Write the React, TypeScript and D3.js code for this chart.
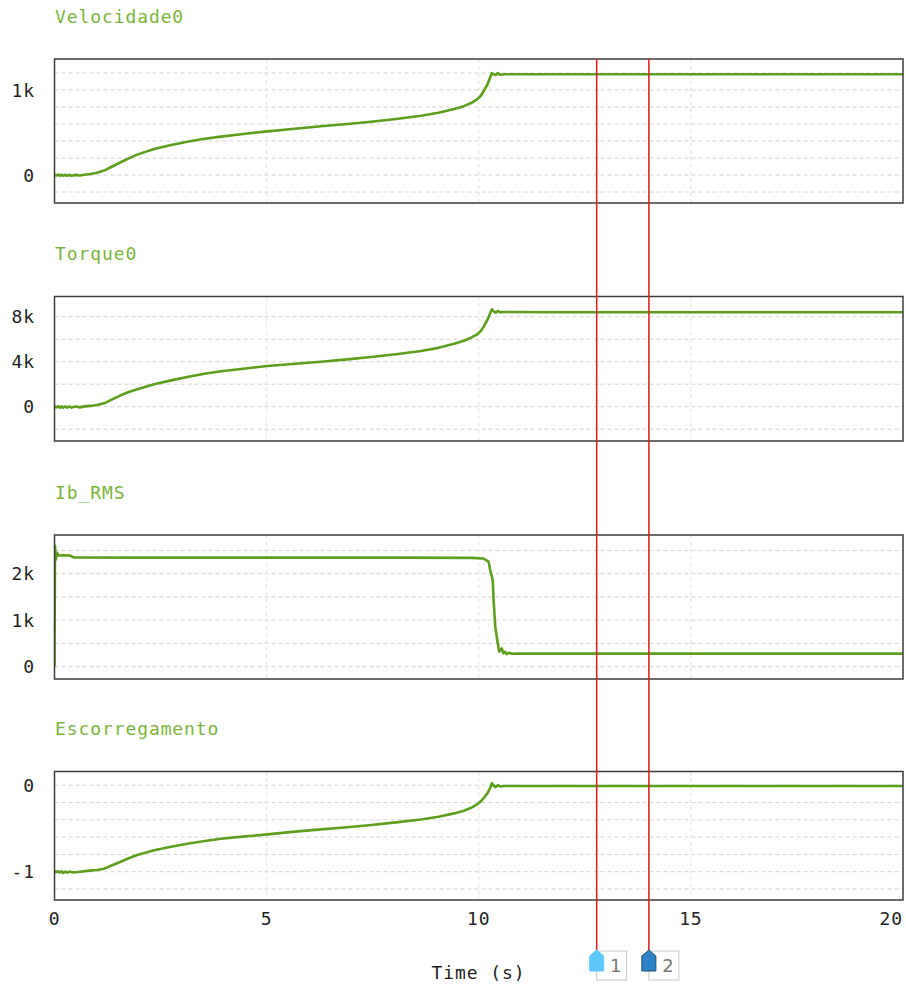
import React, { useMemo } from 'react'
import * as d3 from 'd3'

// sampled from the plot: [time (s), value]
const velocidade: [number, number][] = [
  [0, 6], [0.04, -6], [0.08, 5], [0.12, -8], [0.16, 4], [0.2, -9], [0.25, 3], [0.3, -9], [0.35, 3],
  [0.4, -8], [0.5, 2], [0.6, -6], [0.7, 4], [0.85, 12], [1.0, 28],
  [1.17, 52], [1.36, 100], [1.56, 150], [1.75, 196], [1.95, 240], [2.35, 306], [2.75, 354],
  [3.13, 392], [3.5, 424], [3.92, 452], [4.5, 486], [5.02, 514], [5.6, 542], [6.28, 573],
  [6.9, 600], [7.46, 627], [8.05, 660], [8.64, 698], [9.05, 732], [9.42, 776], [9.65, 810],
  [9.82, 847], [9.95, 886], [10.05, 933], [10.13, 1000], [10.21, 1071], [10.27, 1150],
  [10.31, 1200], [10.36, 1185], [10.4, 1176], [10.45, 1200], [10.5, 1180], [10.6, 1186],
  [12, 1185], [16, 1185], [20, 1185]
]

const torque: [number, number][] = [
  [0, 40], [0.04, -60], [0.08, 40], [0.12, -80], [0.16, 30], [0.2, -90], [0.25, 20], [0.3, -90],
  [0.35, 20], [0.4, -80], [0.5, 10], [0.6, -60], [0.7, 30], [0.85, 70], [1.0, 150],
  [1.17, 302], [1.36, 650], [1.56, 1013], [1.75, 1300], [1.95, 1547], [2.35, 1991], [2.75, 2340],
  [3.13, 2640], [3.5, 2900], [3.92, 3147], [4.5, 3400], [5.02, 3618], [5.6, 3800], [6.28, 4000],
  [6.9, 4210], [7.46, 4418], [8.05, 4660], [8.64, 4951], [9.05, 5230], [9.42, 5600], [9.65, 5860],
  [9.82, 6133], [9.95, 6400], [10.05, 6729], [10.13, 7200], [10.21, 7769], [10.27, 8300],
  [10.31, 8658], [10.36, 8450], [10.4, 8356], [10.45, 8507], [10.5, 8400], [10.6, 8420],
  [12, 8400], [20, 8400]
]

const ibRms: [number, number][] = [
  [0, 0], [0.005, 1200], [0.012, 2600], [0.03, 2300], [0.06, 2450], [0.1, 2390], [0.2, 2395],
  [0.37, 2390], [0.45, 2350], [2, 2345], [5, 2345], [8, 2345], [9.8, 2340], [10.11, 2327],
  [10.23, 2258], [10.27, 2080], [10.33, 1865], [10.35, 1434], [10.39, 860], [10.43, 611],
  [10.48, 323], [10.54, 396], [10.58, 288], [10.62, 321], [10.66, 270], [10.72, 300],
  [10.78, 278], [11, 280], [20, 280]
]

const escorregamento: [number, number][] = [
  [0, -0.99], [0.04, -1.005], [0.08, -0.995], [0.12, -1.01], [0.16, -0.995], [0.2, -1.015],
  [0.25, -0.998], [0.3, -1.012], [0.35, -0.998], [0.45, -1.01], [0.6, -1.0], [0.78, -0.99],
  [1.0, -0.98], [1.17, -0.965], [1.36, -0.925], [1.56, -0.885], [1.75, -0.845], [1.95, -0.807],
  [2.35, -0.753], [2.75, -0.712], [3.13, -0.677], [3.5, -0.648], [3.92, -0.619], [4.5, -0.592],
  [5.02, -0.569], [5.6, -0.54], [6.28, -0.511], [6.9, -0.486], [7.46, -0.461], [8.05, -0.43],
  [8.64, -0.396], [9.05, -0.365], [9.42, -0.326], [9.65, -0.295], [9.82, -0.261], [9.95, -0.225],
  [10.05, -0.185], [10.13, -0.14], [10.21, -0.089], [10.27, -0.03], [10.31, 0.023], [10.36, -0.01],
  [10.4, -0.023], [10.45, 0.0], [10.5, -0.015], [10.6, -0.01], [12, -0.01], [20, -0.01]
]

const titles = ['Velocidade0', 'Torque0', 'Ib_RMS', 'Escorregamento']
const yDomains: [number, number][] = [[-329, 1365], [-3049, 9796], [-265, 2832], [-1.327, 0.158]]
const gridSteps = [200, 2000, 500, 0.2]
const labelTicks = [[0, 1000], [0, 4000, 8000], [0, 1000, 2000], [-1, 0]]
const xTicks = [0, 5, 10, 15, 20]
const cursors = [12.78, 14.01]

const W = 906
const H = 987
const LEFT = 54.5
const RIGHT = 903
const panelTops = [59, 296.5, 535, 771.5]
const panelBottoms = [203, 441, 679, 900]

const MONO = '"DejaVu Sans Mono", monospace'
const LINE = '#5c9f1c'
const TITLE = '#7bb53b'

const fmt = (v: number) => {
  if (Math.abs(v) >= 1000) return `${v / 1000}k`
  return `${v}`
}

export default function App() {
  const x = useMemo(() => d3.scaleLinear().domain([0, 20]).range([LEFT, RIGHT]), [])
  const series = [velocidade, torque, ibRms, escorregamento]

  const panels = series.map((data, i) => {
    const y = d3.scaleLinear().domain(yDomains[i]).range([panelBottoms[i], panelTops[i]])
    const line = d3.line<[number, number]>().x(d => x(d[0])).y(d => y(d[1]))
    const step = gridSteps[i]
    const [lo, hi] = yDomains[i]
    const grid = d3.range(Math.ceil(lo / step), Math.floor(hi / step) + 1).map(k => +(k * step).toFixed(6))
    return { y, path: line(data) || '', grid, i }
  })

  return (
    <svg width={W} height={H} style={{ position: 'absolute', left: 0, top: 0, background: '#fff' }}>
      <defs>
        {panels.map(p => (
          <clipPath id={`clip${p.i}`} key={p.i}>
            <rect x={LEFT} y={panelTops[p.i]} width={RIGHT - LEFT} height={panelBottoms[p.i] - panelTops[p.i]} />
          </clipPath>
        ))}
      </defs>

      {panels.map(p => {
        const top = panelTops[p.i], bottom = panelBottoms[p.i]
        return (
          <g key={p.i}>
            <text x={55} y={top - 36.5} fill={TITLE} fontFamily={MONO} fontSize={18} letterSpacing={0.9}>
              {titles[p.i]}
            </text>
            {/* horizontal grid */}
            {p.grid.map(v => (
              <line key={v} x1={LEFT} x2={RIGHT} y1={p.y(v)} y2={p.y(v)}
                stroke="#d3d3d3" strokeWidth={1} strokeDasharray="4 3" />
            ))}
            {/* vertical grid */}
            {xTicks.slice(1, -1).map(t => (
              <line key={t} x1={x(t)} x2={x(t)} y1={top} y2={bottom}
                stroke="#dfe4cf" strokeWidth={1} strokeDasharray="4 3" />
            ))}
            <path d={p.path} fill="none" stroke={LINE} strokeWidth={2.6} strokeLinejoin="round"
              clipPath={`url(#clip${p.i})`} />
            <rect x={LEFT} y={top} width={RIGHT - LEFT} height={bottom - top}
              fill="none" stroke="#3c3c3c" strokeWidth={1.5} />
            {labelTicks[p.i].map(v => (
              <text key={v} x={35} y={p.y(v)} dy="0.36em" textAnchor="end"
                fontFamily={MONO} fontSize={18} letterSpacing={0.9} fill="#1e1e1e">
                {fmt(v)}
              </text>
            ))}
          </g>
        )
      })}

      {/* x axis */}
      {xTicks.map((t, k) => (
        <text key={t} x={k === xTicks.length - 1 ? RIGHT : x(t)} y={925}
          textAnchor={k === xTicks.length - 1 ? 'end' : 'middle'}
          fontFamily={MONO} fontSize={18} letterSpacing={0.9} fill="#1e1e1e">
          {t}
        </text>
      ))}
      <text x={478.5} y={979} textAnchor="middle" fontFamily={MONO} fontSize={18} letterSpacing={0.9} fill="#1e1e1e">
        Time (s)
      </text>

      {/* cursors */}
      {cursors.map((c, k) => {
        const cx = x(c)
        const fill = k === 0 ? '#5ec8fb' : '#2c83c7'
        const stroke = k === 0 ? '#5ec8fb' : '#1e4d73'
        return (
          <g key={k}>
            <line x1={cx} x2={cx} y1={panelTops[0]} y2={950} stroke="#e3191b" strokeWidth={1.5} />
            <rect x={cx} y={951} width={30} height={29} fill="#fff" stroke="#c8c8c8" strokeWidth={1} />
            <path d={`M${cx},950 L${cx + 7},956 L${cx + 7},971 L${cx - 7},971 L${cx - 7},956 Z`}
              fill={fill} stroke={stroke} strokeWidth={1} />
            <text x={cx + 19} y={972} textAnchor="middle" fontFamily='"DejaVu Sans", sans-serif'
              fontSize={18} fill="#777">
              {k + 1}
            </text>
          </g>
        )
      })}
    </svg>
  )
}
